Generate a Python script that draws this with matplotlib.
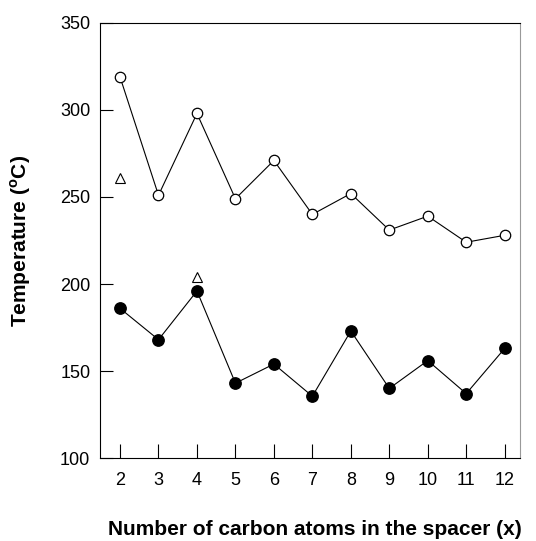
import matplotlib
matplotlib.use("Agg")
import matplotlib.pyplot as plt

plt.rcParams['font.family'] = ['Liberation Sans', 'DejaVu Sans']

spacer = [2, 3, 4, 5, 6, 7, 8, 9, 10, 11, 12]
upper_T = [319, 251, 298, 249, 271, 240, 252, 231, 239, 224, 228]
lower_T = [186, 168, 196, 143, 154, 135.5, 173, 140, 156, 137, 163]
tri_x = [2, 4]
tri_T = [261, 204]
xticks = list(range(2, 13))
yticks = [100, 150, 200, 250, 300, 350]

fig = plt.figure(figsize=(5.36, 5.41), dpi=100)
ax = fig.add_axes([0.1866, 0.1534, 0.783, 0.8041])

ax.plot(spacer, upper_T, '-', color='black', lw=0.8, marker='o', ms=7.5,
        mfc='white', mec='black', mew=0.9, zorder=3)
ax.plot(spacer, lower_T, '-', color='black', lw=0.8, marker='o', ms=8.2,
        mfc='black', mec='black', zorder=3)
ax.plot(tri_x, tri_T, linestyle='none', marker='^', ms=6.5, mfc='white',
        mec='black', mew=0.8, zorder=3)

ax.set_xlim(1.48, 12.39)
ax.set_ylim(100, 350)
ax.set_xticks(xticks)
ax.set_yticks(yticks)
ax.tick_params(axis='x', direction='in', length=10, width=0.8, pad=10, labelsize=13)
ax.tick_params(axis='y', direction='in', length=9, width=0.8, pad=7, labelsize=13)
for s in ax.spines.values():
    s.set_linewidth(0.8)
    s.set_color('black')
ax.spines['right'].set_color('#999999')

ax.set_ylabel('Temperature ($^{\\mathregular{o}}$C)', fontsize=15, fontweight='bold')
ax.set_xlabel('Number of carbon atoms in the spacer (x)', fontsize=15, fontweight='bold')
ax.yaxis.set_label_coords(-0.1595, 0.5)
ax.xaxis.set_label_coords(0.512, -0.1425)

fig.savefig('out.png', dpi=100)
